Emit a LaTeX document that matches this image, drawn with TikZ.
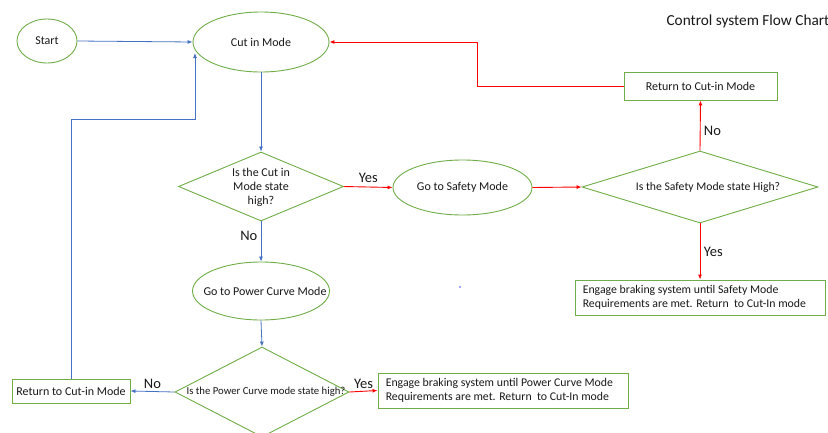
\documentclass[tikz,border=0pt]{standalone}
\usepackage{fontspec}
\setmainfont{Carlito}
\usetikzlibrary{shapes.geometric,arrows.meta}
\definecolor{grn}{RGB}{112,173,71}
\definecolor{blu}{RGB}{68,114,196}
\definecolor{rd}{RGB}{255,0,0}
\definecolor{txt}{RGB}{25,25,25}
\begin{document}
\begin{tikzpicture}[x=1pt,y=-1pt,
  every node/.style={text=txt},
  oval/.style={ellipse,draw=grn,line width=0.9pt,inner sep=0pt,font=\fontsize{12}{14}\selectfont},
  dia/.style={diamond,draw=grn,line width=0.9pt,inner sep=0pt},
  diatext/.style={align=center,inner sep=0pt},
  box/.style={rectangle,draw=grn,line width=0.9pt,inner sep=0pt,font=\fontsize{12}{14.5}\selectfont},
  boxtext/.style={align=left,inner sep=0pt,anchor=west,font=\fontsize{11.8}{14.2}\selectfont},
  barrow/.style={draw=blu,line width=0.8pt,-{Latex[length=5pt,width=4pt]}},
  rarrow/.style={draw=rd,line width=0.9pt,-{Latex[length=5pt,width=4pt]}},
  lbl/.style={font=\fontsize{14.5}{16}\selectfont}
]
\useasboundingbox (0,0) rectangle (828,432);
\clip (0,0) rectangle (828,432);
\fill[white] (0,0) rectangle (828,432);

\node[font=\fontsize{15.3}{17}\selectfont,anchor=west] (title) at (663,21) {Control system Flow Chart};

\node[oval,minimum width=60pt,minimum height=44pt] (start) at (47,41) {Start};
\node[oval,minimum width=136pt,minimum height=60pt] (cutin) at (261,42) {Cut in Mode};
\node[box,minimum width=153pt,minimum height=28pt] (rettop) at (700.5,86) {Return to Cut-in Mode};

\node[dia,minimum width=165pt,minimum height=69pt] (d1) at (261,186.5) {};
\node[diatext,font=\fontsize{12}{14}\selectfont,yshift=-1pt] (d1t) at (d1.center) {Is the Cut in\\Mode state\\high?};

\node[oval,minimum width=139pt,minimum height=55pt] (safety) at (462.5,187.5) {};
\node[diatext,font=\fontsize{12}{14}\selectfont] (safetyt) at (safety.center) {Go to Safety Mode};

\node[dia,minimum width=236pt,minimum height=72pt] (d2) at (700,187) {};
\node[diatext,font=\fontsize{11.7}{14}\selectfont,xshift=8pt] (d2t) at (d2.center) {Is the Safety Mode state High?};

\node[box,minimum width=250pt,minimum height=35pt] (safebox) at (700,297.5) {};
\node[boxtext] (safetext) at ([xshift=8pt]safebox.west) {Engage braking system until Safety Mode\\Requirements are met. Return\ \ to Cut-In mode};

\node[oval,minimum width=137pt,minimum height=58pt] (power) at (261,291) {};
\node[diatext,font=\fontsize{12}{14}\selectfont,xshift=4pt] (powert) at (power.center) {Go to Power Curve Mode};

\node[dia,minimum width=174pt,minimum height=90pt] (d3) at (262,392) {};
\node[diatext,font=\fontsize{10.7}{12}\selectfont,xshift=4pt] (d3t) at (d3.center) {Is the Power Curve mode state high?};

\node[box,minimum width=118pt,minimum height=24pt] (retbot) at (71,391) {Return to Cut-in Mode};
\node[box,minimum width=250pt,minimum height=35pt] (powerbox) at (503,390.5) {};
\node[boxtext] (powertext) at ([xshift=8pt]powerbox.west) {Engage braking system until Power Curve Mode\\Requirements are met. Return\ \ to Cut-In mode};

\coordinate (rbend) at (477,86);
\coordinate (bbend) at (195,119);
\coordinate (btgt) at (195,53);

\draw[barrow] (start.east) -- (cutin.west);
\draw[barrow] (cutin.south) -- (d1.north);
\draw[rarrow] (d1.east) -- node[lbl,above,yshift=1pt] (y1) {Yes} (safety.west);
\draw[rarrow] (safety.east) -- (d2.west);
\draw[rarrow] (d2.north) -- node[lbl,right,pos=0.4] (n2) {No} (rettop.south);
\draw[rarrow] (rettop.west) -- (rbend) |- (cutin.east);
\draw[rarrow] (d2.south) -- node[lbl,right] (y2) {Yes} (safebox.north);
\draw[barrow] (d1.south) -- node[lbl,left,pos=0.35] (n1) {No} (power.north);
\draw[barrow] (power.south) -- (d3.north);
\draw[barrow] (d3.west) -- node[lbl,above,yshift=-1pt] (n3) {No} (retbot.east);
\draw[rarrow] (d3.east) -- node[lbl,above,yshift=-1pt] (y3) {Yes} (powerbox.west);
\draw[barrow] (retbot.north) |- (bbend) -- (btgt);

\fill[blue!70] (460,287) circle (0.8pt);
\end{tikzpicture}
\end{document}
